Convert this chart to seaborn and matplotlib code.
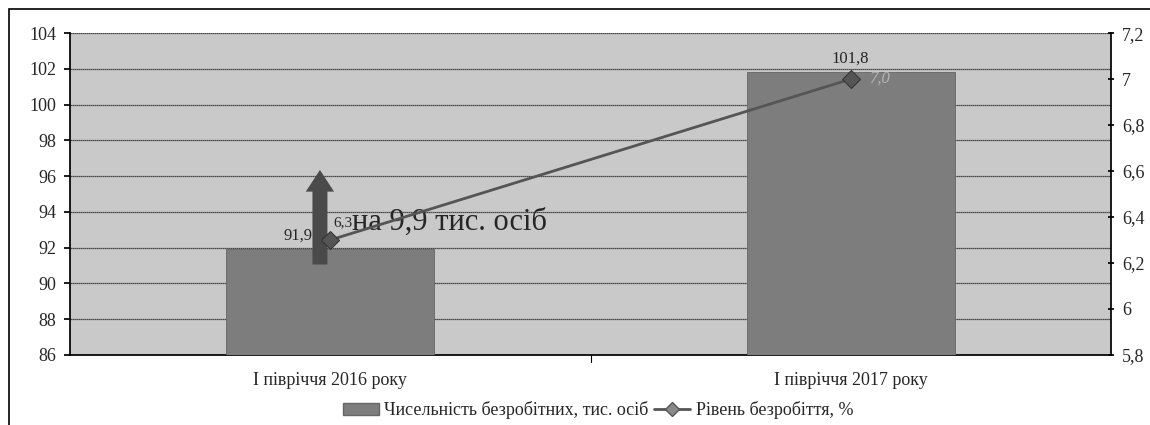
import matplotlib
matplotlib.use("Agg")
import matplotlib.pyplot as plt
import seaborn as sns
import pandas as pd
from matplotlib.patches import Rectangle
from matplotlib.lines import Line2D
from matplotlib.patches import Patch

# Data
periods = ["I півріччя 2016 року", "I півріччя 2017 року"]
unemployed = [91.9, 101.8]
rate = [6.3, 7.0]
bar_labels = ["91,9", "101,8"]
rate_labels = ["6,3", "7,0"]
left_ticks = [86, 88, 90, 92, 94, 96, 98, 100, 102, 104]
right_ticks = [5.8, 6.0, 6.2, 6.4, 6.6, 6.8, 7.0, 7.2]
right_tick_labels = ["5,8", "6", "6,2", "6,4", "6,6", "6,8", "7", "7,2"]

df = pd.DataFrame({"period": periods, "unemployed": unemployed, "rate": rate})

sns.set_theme(style="white")
plt.rcParams["font.family"] = ["Liberation Serif", "DejaVu Serif"]

fig = plt.figure(figsize=(11.5, 4.25), dpi=100)
ax = fig.add_axes([0.061, 0.165, 0.905, 0.757])
ax.set_facecolor("#c9c9c9")

sns.barplot(data=df, x="period", y="unemployed", ax=ax, color="#7d7d7d",
            width=0.4, edgecolor="#666666", linewidth=0.6, zorder=3)
ax.set_ylim(86, 104)
ax.set_yticks(left_ticks)
ax.set_yticklabels([str(t) for t in left_ticks], fontsize=13)
ax.set_xlim(-0.5, 1.5)
ax.set_xlabel("")
ax.set_ylabel("")
ax.tick_params(axis="x", labelsize=13, pad=12, length=0)
ax.tick_params(axis="y", length=4, direction="out", left=True, color="black", pad=6)
for y in left_ticks[1:]:
    ax.axhline(y, color="#222222", linewidth=0.9, linestyle=(0, (1, 0.6)), zorder=1)
for s in ["top", "right"]:
    ax.spines[s].set_visible(False)
ax.spines["left"].set_color("black")
ax.spines["bottom"].set_color("black")
ax.plot([0.5, 0.5], [86, 85.6], color="black", linewidth=0.8, clip_on=False)

ax.text(-0.035, unemployed[0] + 0.35, bar_labels[0], ha="right", va="bottom",
        fontsize=12, zorder=6)
ax.text(1, unemployed[1] + 0.8, bar_labels[1], ha="center", va="center",
        fontsize=12, zorder=6)

ax2 = ax.twinx()
sns.lineplot(data=df, x="period", y="rate", ax=ax2, color="#555555", linewidth=2,
             marker="D", markersize=9, markerfacecolor="#555555", markeredgecolor="#333333",
             zorder=5)
ax2.set_ylim(5.8, 7.2)
ax2.set_yticks(right_ticks)
ax2.set_yticklabels(right_tick_labels, fontsize=13)
ax2.set_ylabel("")
ax2.tick_params(axis="y", length=4, direction="inout", right=True, color="black", pad=6)
for s in ["top", "left", "bottom"]:
    ax2.spines[s].set_visible(False)
ax2.spines["right"].set_color("black")
ax2.text(0.005, rate[0] + 0.045, rate_labels[0], fontsize=11, ha="left", va="bottom")
ax2.text(1.035, rate[1], rate_labels[1], fontsize=12, ha="left", va="center",
         color="#b4b4b4", style="italic")

# arrow annotation
ax.annotate("", xy=(-0.02, 96.5), xytext=(-0.02, 90.9),
            arrowprops=dict(arrowstyle="simple,head_width=1.7,head_length=1.3,tail_width=0.9",
                            color="#4a4a4a", lw=0), zorder=7)
ax.text(0.042, 93.4, "на 9,9 тис. осіб", fontsize=22, ha="left", va="center", zorder=8)

handles = [Patch(facecolor="#7d7d7d", edgecolor="#666666", label="Чисельність безробітних, тис. осіб"),
           Line2D([0], [0], color="#555555", lw=2, marker="D", markersize=7,
                  markerfacecolor="#888888", label="Рівень безробіття, %")]
fig.legend(handles=handles, loc="lower center", bbox_to_anchor=(0.52, -0.025), ncol=2,
           frameon=False, fontsize=13, handlelength=2, columnspacing=0.3, handletextpad=0.3)

fig.patches.append(Rectangle((0.008, -0.1), 1.5, 1.078, transform=fig.transFigure,
                             fill=False, edgecolor="black", linewidth=1.2))

fig.savefig("out.png", dpi=100)
